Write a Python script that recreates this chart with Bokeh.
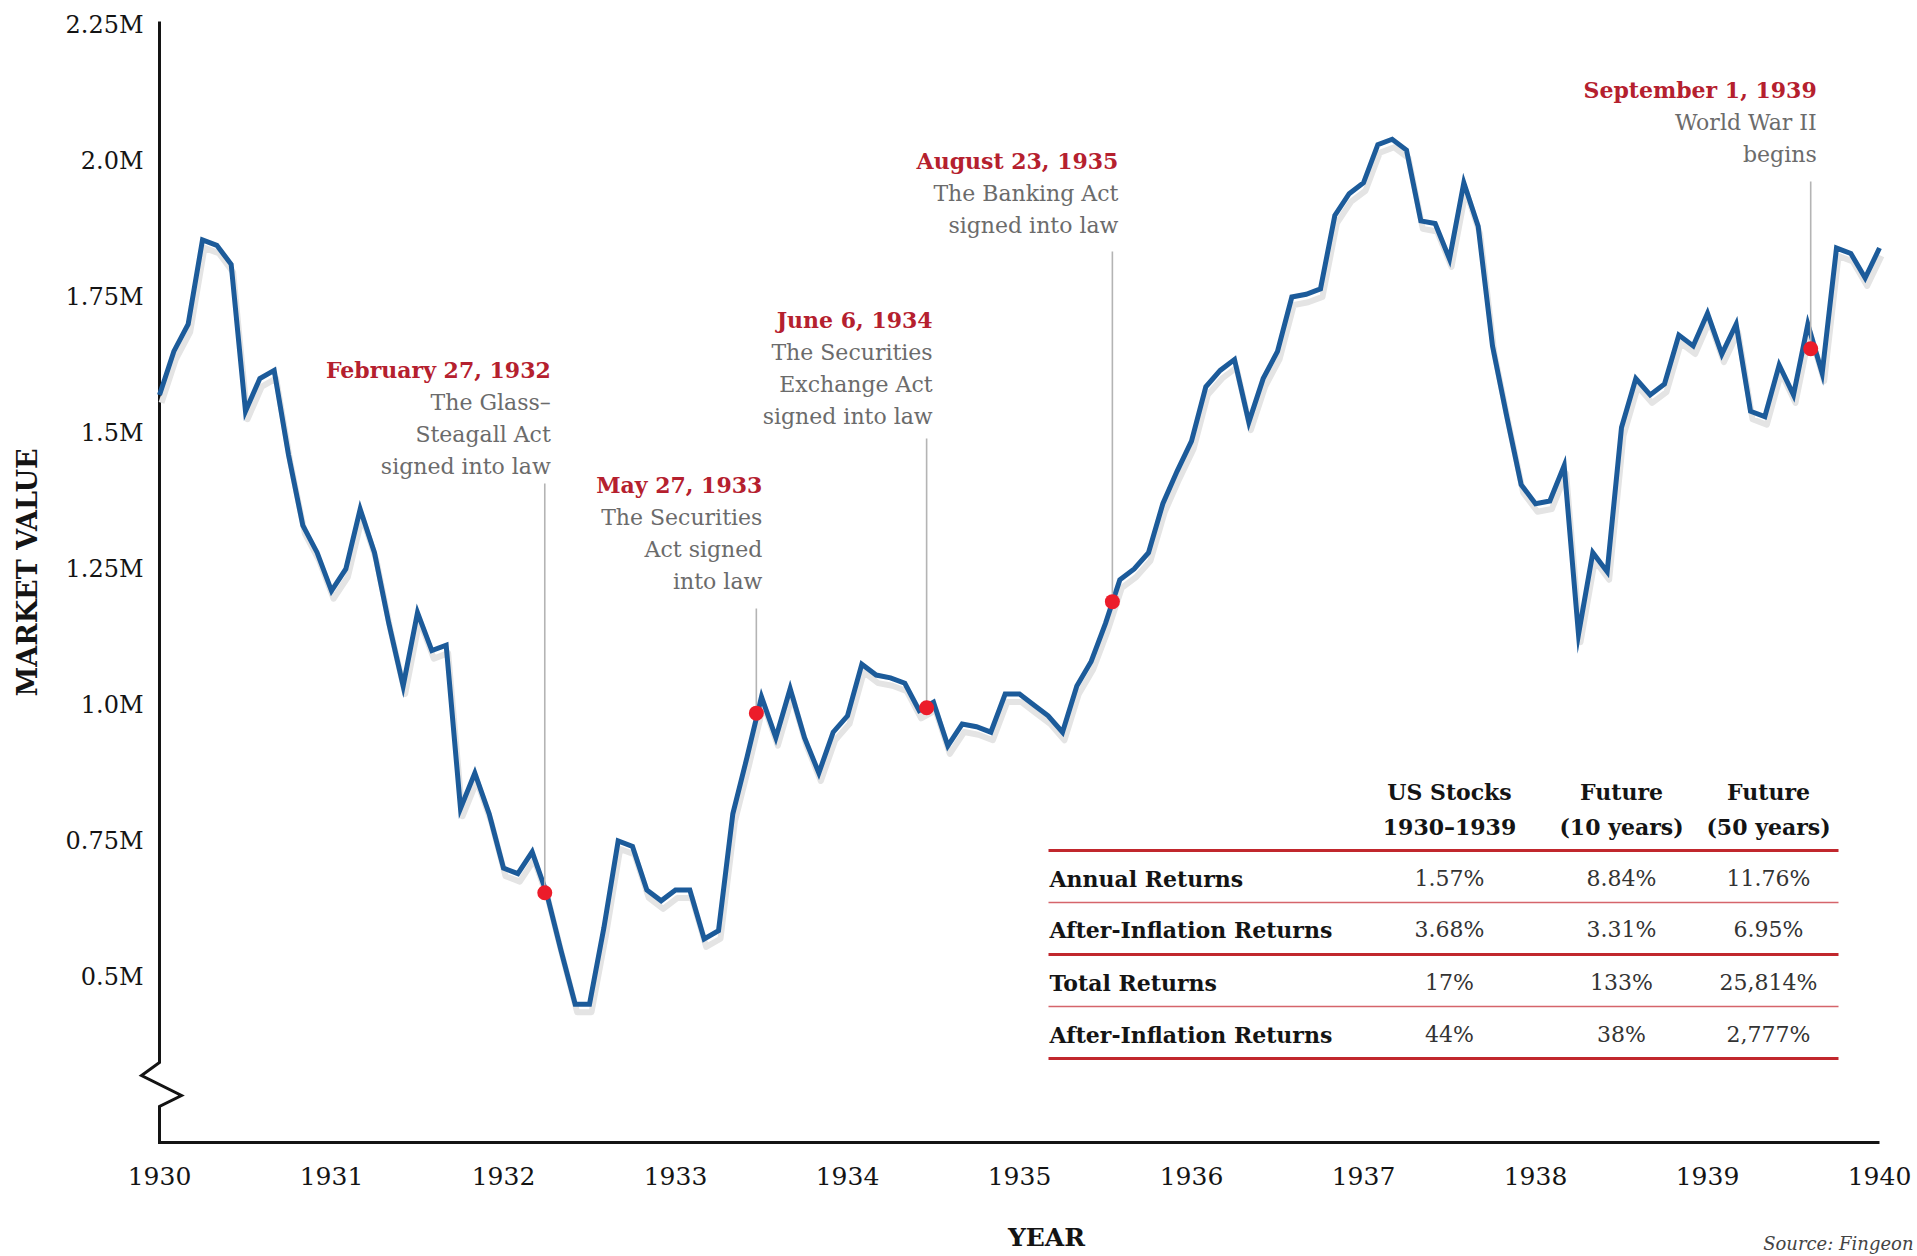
import math
import numpy as np
from bokeh.plotting import figure
from bokeh.models import Range1d, FixedTicker, Label
from bokeh.embed import file_html
from bokeh.resources import INLINE

# ---------------- data ----------------
start_year = 1930
# monthly market value of a portfolio, in millions of dollars (Jan 1930 .. Jan 1940)
market_value = [
    1.57, 1.65, 1.70, 1.855, 1.845, 1.81, 1.54, 1.60, 1.615, 1.46, 1.33, 1.28,
    1.21, 1.25, 1.36, 1.28, 1.15, 1.035, 1.17, 1.10, 1.11, 0.81, 0.875, 0.80,
    0.70, 0.69, 0.73, 0.655, 0.55, 0.45, 0.45, 0.59, 0.75, 0.74, 0.66, 0.64,
    0.66, 0.66, 0.57, 0.585, 0.80, 0.905, 1.015, 0.94, 1.03, 0.94, 0.875, 0.95,
    0.98, 1.075, 1.055, 1.05, 1.04, 0.99, 1.005, 0.925, 0.965, 0.96, 0.95, 1.02,
    1.02, 1.00, 0.98, 0.95, 1.035, 1.08, 1.15, 1.23, 1.25, 1.28, 1.37, 1.43,
    1.485, 1.585, 1.615, 1.635, 1.52, 1.60, 1.65, 1.75, 1.755, 1.765, 1.90, 1.94,
    1.96, 2.03, 2.04, 2.02, 1.89, 1.885, 1.82, 1.96, 1.88, 1.66, 1.53, 1.405,
    1.37, 1.375, 1.44, 1.13, 1.28, 1.245, 1.51, 1.60, 1.57, 1.59, 1.68, 1.66,
    1.72, 1.645, 1.70, 1.54, 1.53, 1.625, 1.57, 1.70, 1.61, 1.84, 1.83, 1.785,
    1.84,
]

event_dates = ["February 27, 1932", "May 27, 1933", "June 6, 1934",
               "August 23, 1935", "September 1, 1939"]
event_descriptions = [
    ["The Glass–", "Steagall Act", "signed into law"],
    ["The Securities", "Act signed", "into law"],
    ["The Securities", "Exchange Act", "signed into law"],
    ["The Banking Act", "signed into law"],
    ["World War II", "begins"],
]
event_year = [1932.24, 1933.47, 1934.46, 1935.54, 1939.60]
event_value = [0.655, 0.985, 0.995, 1.19, 1.655]

x_ticks = [1930, 1931, 1932, 1933, 1934, 1935, 1936, 1937, 1938, 1939, 1940]
y_ticks = [0.5, 0.75, 1.0, 1.25, 1.5, 1.75, 2.0, 2.25]
y_tick_labels = ["0.5M", "0.75M", "1.0M", "1.25M", "1.5M", "1.75M", "2.0M", "2.25M"]
x_title = "YEAR"
y_title = "MARKET VALUE"

table_header_top = ["US Stocks", "Future", "Future"]
table_header_bottom = ["1930–1939", "(10 years)", "(50 years)"]
table_row_labels = ["Annual Returns", "After-Inflation Returns",
                    "Total Returns", "After-Inflation Returns"]
us_stocks_1930_1939 = ["1.57%", "3.68%", "17%", "44%"]
future_10_years = ["8.84%", "3.31%", "133%", "38%"]
future_50_years = ["11.76%", "6.95%", "25,814%", "2,777%"]

source_note = "Source: Fingeon"

# ---------------- geometry / style ----------------
W, H = 1917, 1256
AXIS_T, AXIS_R, AXIS_B = 21, 1879, 1142   # where the drawn axes end
X_AXIS_PX = 159                           # pixel of the y axis / first year
PX_PER_YEAR = 172.0
Y_TOP_TICK_PX = 24.5                      # pixel of top tick
PX_PER_UNIT = 544.0


def dx(px):
    return x_ticks[0] + (px - X_AXIS_PX) / PX_PER_YEAR


def dy(py):
    return y_ticks[-1] - (py - Y_TOP_TICK_PX) / PX_PER_UNIT


SERIF = "DejaVu Serif"
BLUE = "#1c5b9a"
RED_TXT = "#b5202e"
RED_DOT = "#ec1c2a"
GRAY_TXT = "#6b6b6b"
INK = "#141414"

# frame covers the whole canvas; axes are pinned at the drawn axis lines
p = figure(width=W, height=H, output_backend="svg", toolbar_location=None,
           x_range=Range1d(dx(0), dx(W)), y_range=Range1d(dy(H), dy(0)),
           min_border_left=0, min_border_right=0, min_border_top=0,
           min_border_bottom=0,
           background_fill_color="white", border_fill_color="white")
p.outline_line_color = None
p.grid.visible = False

p.xaxis.ticker = FixedTicker(ticks=x_ticks)
p.yaxis.ticker = FixedTicker(ticks=y_ticks)
p.yaxis.major_label_overrides = {t: s for t, s in zip(y_ticks, y_tick_labels)}
p.xaxis.fixed_location = dy(AXIS_B)
p.yaxis.fixed_location = dx(X_AXIS_PX)
for ax in (p.xaxis[0], p.yaxis[0]):
    ax.axis_line_color = None
    ax.major_tick_line_color = None
    ax.minor_tick_line_color = None
    ax.major_tick_out = 0
    ax.major_tick_in = 0
    ax.major_label_text_font = SERIF
    ax.major_label_text_color = INK
p.xaxis.major_label_text_font_size = "25px"
p.yaxis.major_label_text_font_size = "24px"
p.xaxis.major_label_standoff = 24
p.yaxis.major_label_standoff = 16

# axis titles
p.add_layout(Label(x=dx(27), y=dy(572), angle=math.pi / 2, text=y_title,
                   text_align="center", text_baseline="middle", text_font=SERIF,
                   text_font_style="bold", text_font_size="27px", text_color=INK))
p.add_layout(Label(x=dx(1046), y=dy(1237), text=x_title,
                   text_align="center", text_baseline="middle", text_font=SERIF,
                   text_font_style="bold", text_font_size="25px", text_color=INK))

# axis lines with break mark
axis_px = [(X_AXIS_PX, AXIS_T), (X_AXIS_PX, 1062), (141, 1075), (181, 1095),
           (X_AXIS_PX, 1106), (X_AXIS_PX, AXIS_B), (AXIS_R, AXIS_B)]
p.line([dx(a) for a, b in axis_px], [dy(b) for a, b in axis_px],
       line_color=INK, line_width=3, line_join="miter")

# series
years = start_year + np.arange(len(market_value)) / 12.0
values = np.array(market_value)
p.line(years + 2 / PX_PER_YEAR, values - 8 / PX_PER_UNIT,
       line_color="#e4e4e4", line_width=6, line_join="round")
p.line(years, values, line_color=BLUE, line_width=5, line_join="miter")

# events
label_top_px = [369, 484, 319, 160, 89]
leader_top_px = [483, 608, 438, 251, 181]
p.segment(x0=event_year, y0=[dy(v) for v in leader_top_px],
          x1=event_year, y1=event_value, line_color="#b4b4b4", line_width=1.6)
p.scatter(event_year, event_value, size=15, fill_color=RED_DOT, line_color=None)

for ex, date, desc, top in zip(event_year, event_dates, event_descriptions, label_top_px):
    p.add_layout(Label(x=ex, y=dy(top), x_offset=6, text=date, text_align="right",
                       text_baseline="middle", text_font=SERIF, text_font_style="bold",
                       text_font_size="22px", text_color=RED_TXT))
    for i, line in enumerate(desc):
        p.add_layout(Label(x=ex, y=dy(top + 33 + 32 * i), x_offset=6, text=line,
                           text_align="right", text_baseline="middle", text_font=SERIF,
                           text_font_size="22px", text_color=GRAY_TXT))

# table
col_px = [1449, 1621, 1768]
row_label_px = 1049
header_px = [791, 826]
row_px = [878, 929, 982, 1034]
rule_px = [850, 902, 954, 1006, 1058]
rule_w = [3, 1.6, 3, 1.6, 3]
rule_c = ["#c1272d", "#d5656b", "#c1272d", "#d5656b", "#c1272d"]
p.segment(x0=[dx(1048)] * 5, x1=[dx(1838)] * 5,
          y0=[dy(v) for v in rule_px], y1=[dy(v) for v in rule_px],
          line_color=rule_c, line_width=rule_w)
for cx, t1, t2 in zip(col_px, table_header_top, table_header_bottom):
    for txt, py in ((t1, header_px[0]), (t2, header_px[1])):
        p.add_layout(Label(x=dx(cx), y=dy(py), text=txt, text_align="center",
                           text_baseline="middle", text_font=SERIF, text_font_style="bold",
                           text_font_size="22px", text_color=INK))
for lab, py in zip(table_row_labels, row_px):
    p.add_layout(Label(x=dx(row_label_px), y=dy(py), text=lab, text_align="left",
                       text_baseline="middle", text_font=SERIF, text_font_style="bold",
                       text_font_size="22px", text_color=INK))
for cx, col in zip(col_px, (us_stocks_1930_1939, future_10_years, future_50_years)):
    for txt, py in zip(col, row_px):
        p.add_layout(Label(x=dx(cx), y=dy(py), text=txt, text_align="center",
                           text_baseline="middle", text_font=SERIF,
                           text_font_size="22px", text_color="#333333"))

p.add_layout(Label(x=dx(1913), y=dy(1253), text=source_note, text_align="right",
                   text_baseline="bottom", text_font=SERIF, text_font_style="italic",
                   text_font_size="18px", text_color="#444444"))

open("out.html", "w").write(file_html(p, INLINE))
